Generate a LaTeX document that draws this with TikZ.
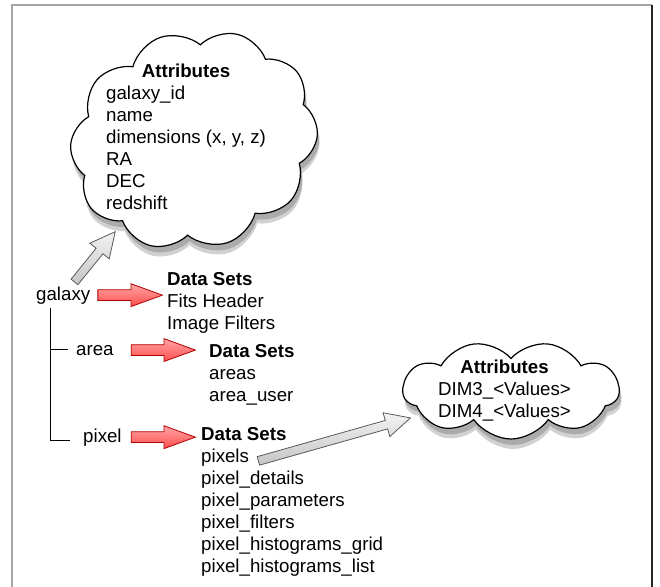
\documentclass[tikz,border=0pt]{standalone}
\usepackage{fontspec}
\setmainfont{Liberation Sans}
\usetikzlibrary{calc}
\usetikzlibrary{shapes.symbols}
\usetikzlibrary{shapes.arrows}

% block arrow from #2 to #3, style #1
\newcommand{\blockarr}[3]{%
  \path let \p1=(#2), \p2=(#3), \n1={atan2(\y2-\y1,\x2-\x1)}, \n2={veclen(\x2-\x1,\y2-\y1)} in
    node[#1, anchor=tail, rotate=\n1, minimum height=\n2] at (\p1) {};}

\begin{document}
\begin{tikzpicture}[x=1pt,y=-1pt,
    every node/.style={font=\fontsize{18.7}{22}\selectfont, inner sep=0pt},
    bigpuff/.style={cloud, cloud puffs=10, cloud puff arc=115, rotate=18, cloud ignores aspect,
                    minimum width=250, minimum height=216},
    smallpuff/.style={cloud, cloud puffs=9, cloud puff arc=110, rotate=180, cloud ignores aspect,
                      minimum width=216, minimum height=98},
    puff/.style={draw, line width=1.2pt, fill=white},
    puffshadow/.style={fill=black, opacity=0.18},
    redarr/.style={single arrow, single arrow head extend=6pt, single arrow tip angle=40, inner sep=5pt,
                   draw=red!70!black, top color=red!35, bottom color=red!70, line width=0.8pt},
    grayarr/.style={single arrow, single arrow head extend=8pt, single arrow tip angle=53, inner sep=4pt,
                    draw=black!65, top color=gray!10, bottom color=gray!45, line width=0.8pt}]
    \useasboundingbox (0,0) rectangle (660,586);
    \draw[gray!70, line width=2.5pt] (12,590) -- (12,5) -- (652,5);
    \draw[black!85, line width=1.5pt] (652,5) -- (652,590);
    % ombres
    \node[bigpuff, puffshadow] (S0) at (196,146) {};
    \node[bigpuff, puffshadow] (S0b) at (196,150) {};
    \node[smallpuff, puffshadow] (S1) at (513,396) {};
    \node[smallpuff, puffshadow] (S1b) at (513,400) {};
    % nuages
    \node[bigpuff, puff] (C0) at (194,140) {};
    \node[anchor=base west] (T0) at (106,77) {\begin{tabular}[t]{@{}l@{}}\multicolumn{1}{@{}c@{}}{\textbf{Attributes}}\\
        galaxy\_id\\ name\\ dimensions (x, y, z)\\ RA\\ DEC\\ redshift\end{tabular}};
    \node[smallpuff, puff] (C1) at (511,390) {};
    \node[anchor=base west] (T1) at (438,373) {\begin{tabular}[t]{@{}l@{}}\multicolumn{1}{@{}c@{}}{\textbf{Attributes}}\\
        DIM3\_<Values>\\ DIM4\_<Values>\end{tabular}};
    % arbre
    \node[anchor=base west] (G) at (36,300) {galaxy};
    \node[anchor=base west] (A) at (76,355) {area};
    \node[anchor=base west] (P) at (83,442) {pixel};
    \draw[line width=1pt] ($(G.base west)+(14,8)$) |- ($(A.base west)+(-8,-6)$);
    \draw[line width=1pt] ($(G.base west)+(14,8)$) |- ($(P.base west)+(-13,-2)$);
    \node[anchor=base west] (D0) at (167,285) {\begin{tabular}[t]{@{}l@{}}\textbf{Data Sets}\\ Fits Header\\ Image Filters\end{tabular}};
    \node[anchor=base west] (D1) at (209,357) {\begin{tabular}[t]{@{}l@{}}\textbf{Data Sets}\\ areas\\ area\_user\end{tabular}};
    \node[anchor=base west] (D2) at (201,440) {\begin{tabular}[t]{@{}l@{}}\textbf{Data Sets}\\ pixels\\ pixel\_details\\
        pixel\_parameters\\ pixel\_filters\\ pixel\_histograms\_grid\\ pixel\_histograms\_list\end{tabular}};
    % fleches
    \blockarr{redarr}{$(G.east)+(7,0)$}{$(G.east -| D0.west)+(-5,0)$}
    \blockarr{redarr}{$(A.east)+(17,0)$}{$(A.east -| D1.west)+(-14,0)$}
    \blockarr{redarr}{$(P.east)+(9,0)$}{$(P.east -| D2.west)+(-6,0)$}
    \blockarr{grayarr}{$(G.north)+(11,-4)$}{$(C0.center)+(-79,92)$}
    \coordinate (Px) at ($(D2.base west)+(57,21)$);
    \blockarr{grayarr}{Px}{$(C1.center)+(-101,28)$}
\end{tikzpicture}
\end{document}
